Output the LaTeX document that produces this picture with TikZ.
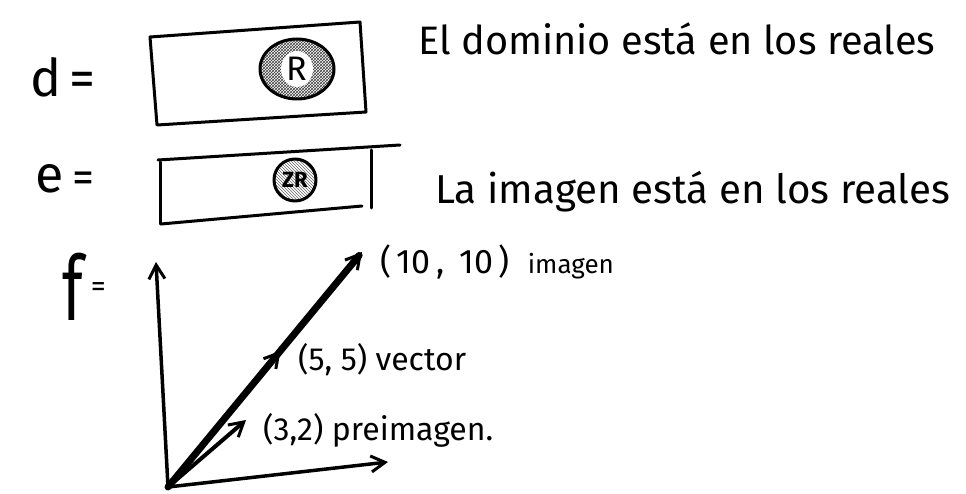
\documentclass[tikz,border=0pt]{standalone}
\usepackage{fontspec}
\usepackage{graphicx}
\setmainfont{Fira Sans}
\usetikzlibrary{arrows.meta,patterns,decorations.markings,shapes.geometric}
\newcommand{\fitw}[2]{\resizebox{#1}{!}{#2}}
\begin{document}
\begin{tikzpicture}[x=1pt,y=-1pt,
  ink/.style={line width=3pt,line cap=round,line join=round},
  vec/.style={line width=#1,line cap=round,-{Straight Barb[length=14pt,width=16pt,line width=3pt]}},
  lbl/.style={inner sep=0pt,anchor=base west},
  hatch/.style={ink,pattern=crosshatch,pattern color=black!75}]
\useasboundingbox (0,0) rectangle (966,494);
\fill[white] (0,0) rectangle (966,494);
% left labels
\node[lbl] (dl) at (30,97) {\fontsize{52}{52}\selectfont d\,=};
\node[lbl] (el) at (35,193) {\fontsize{52}{52}\selectfont e\,{\fontsize{44}{44}\selectfont =}};
\node[lbl] (fl) at (62,320) {\scalebox{1}[1.45]{\fontsize{62}{62}\selectfont f}\hspace{8pt}\raisebox{24pt}{\fontsize{30}{30}\selectfont =}};
% box d
\draw[ink] (150,37) -- (360,22) -- (366,112) -- (157,125) -- cycle;
\node[draw,ellipse,hatch,minimum width=74pt,minimum height=60pt,inner sep=0pt] (dR) at (297,69) {};
\node[fill=white,inner sep=1pt,ellipse] at (dR) {\fontsize{34}{34}\selectfont R};
% box e
\draw[ink] (158,160) -- (400,145);
\draw[ink] (371,150) -- (371,208);
\draw[ink] (161,224) -- (362,206);
\draw[ink] (160,162) -- (160,224);
\node[draw,circle,ink,pattern=north west lines,pattern color=black!60,minimum size=42pt,inner sep=0pt] (eR) at (295,180) {};
\node at (eR) {\fontsize{22}{22}\selectfont\bfseries ZR};
% texts
\node[lbl] (t1) at (418,55) {\fitw{517pt}{El dominio está en los reales}};
\node[lbl] (t2) at (435,204) {\fitw{515pt}{La imagen está en los reales}};
% axes
\coordinate (O) at (168,487);
\coordinate (Y) at (156,262);
\coordinate (X) at (388,462);
\coordinate (V10) at (362,252);
\coordinate (V3) at (246,420);
\draw[vec=3.5pt] (O) -- (Y);
\draw[vec=3.5pt] (O) -- (X);
\draw[vec=7pt,postaction={decorate},decoration={markings,mark=at position 0.58 with {\arrow{Straight Barb[length=14pt,width=16pt,line width=3pt]}}}] (O) -- (V10);
\draw[vec=4pt] (O) -- (V3);
\node[lbl] (l10) at (380,273) {\fontsize{34}{34}\selectfont (\,10\,,\;\,10\,)\hspace{18pt}{\fontsize{26}{26}\selectfont imagen}};
\node[lbl] (l5) at (298,370) {\fontsize{32}{32}\selectfont (5, 5) vector};
\node[lbl] (l3) at (263,440) {\fontsize{32}{32}\selectfont (3,2) preimagen.};
\end{tikzpicture}
\end{document}
